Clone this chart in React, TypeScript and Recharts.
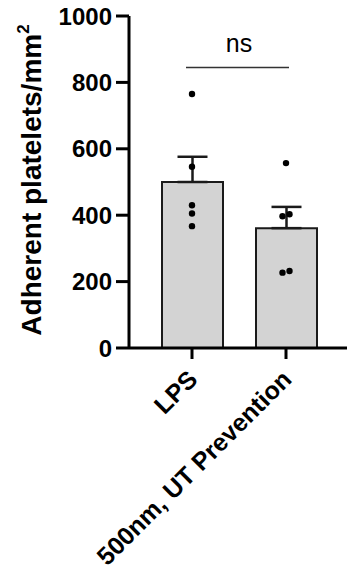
import {
  ComposedChart,
  Bar,
  Scatter,
  XAxis,
  YAxis,
  ErrorBar,
  ReferenceLine,
} from "recharts";

const groups = ["LPS", "500nm, UT Prevention"];
const means = [500, 361];
const sems = [76, 64];
const lpsPoints = [765, 546, 430, 405, 367];
const utPoints = [557, 403, 397, 232, 227];
const yTicks = [0, 200, 400, 600, 800, 1000];

const FONT = "Arial, 'Liberation Sans', sans-serif";

const barData = groups.map((name, i) => ({
  name,
  mean: means[i],
  err: [0, sems[i]],
}));

const pointData = [
  ...lpsPoints.map((v) => ({ name: groups[0], value: v })),
  ...utPoints.map((v) => ({ name: groups[1], value: v })),
];

// nudge points sideways when two in the same group nearly overlap
const Dot = (props: any) => {
  const { cx, cy, payload } = props;
  const same = pointData.filter((p) => p.name === payload.name);
  const idx = same.findIndex((p) => p.value === payload.value);
  const near = same.findIndex(
    (p, j) => j !== idx && Math.abs(p.value - payload.value) < 15
  );
  let dx = 0;
  if (near >= 0) dx = near > idx ? 3.5 : -3.5;
  return <circle cx={cx + dx} cy={cy} r={3.2} fill="#000" />;
};

const XTick = (props: any) => {
  const { x, y, payload } = props;
  return (
    <g transform={`translate(${x + 7},${y + 20})`}>
      <text
        x={0}
        y={0}
        textAnchor="end"
        transform="rotate(-45)"
        fontFamily={FONT}
        fontWeight="bold"
        fontSize={25}
        fill="#000"
      >
        {payload.value}
      </text>
    </g>
  );
};

const YLabel = () => (
  <text
    x={41}
    y={180}
    textAnchor="middle"
    transform="rotate(-90, 41, 180)"
    fontFamily={FONT}
    fontWeight="bold"
    fontSize={28}
    fill="#000"
  >
    Adherent platelets/mm
    <tspan dy={-12} fontSize={17}>
      2
    </tspan>
  </text>
);

// significance bar, slightly wider than the two category centres
const SigLine = (props: any) => {
  const { x1, y1, x2, y2 } = props;
  return (
    <line x1={x1 - 6} y1={y1} x2={x2 + 3} y2={y2} stroke="#333" strokeWidth={1.5} />
  );
};

export default function App() {
  return (
    <div style={{ position: "absolute", left: 0, top: 0, background: "#fff" }}>
      <ComposedChart
        width={347}
        height={571}
        data={barData}
        margin={{ top: 16, right: 0, bottom: 10, left: 0 }}
      >
        <XAxis
          dataKey="name"
          allowDuplicatedCategory={false}
          padding={{ left: 16, right: 14 }}
          height={213}
          axisLine={{ stroke: "#000", strokeWidth: 3 }}
          tickLine={{ stroke: "#000", strokeWidth: 3 }}
          tickSize={11}
          interval={0}
          tick={<XTick />}
        />
        <YAxis
          width={129}
          domain={[0, 1000]}
          ticks={yTicks}
          axisLine={{ stroke: "#000", strokeWidth: 3 }}
          tickLine={{ stroke: "#000", strokeWidth: 3 }}
          tickSize={13}
          tickMargin={4}
          tick={{
            fill: "#000",
            fontSize: 24,
            fontWeight: "bold",
            fontFamily: FONT,
          }}
          label={<YLabel />}
        />
        <Bar
          dataKey="mean"
          barSize={61}
          fill="#d3d3d3"
          stroke="#1a1a1a"
          strokeWidth={2}
          isAnimationActive={false}
        >
          <ErrorBar
            dataKey="err"
            width={15}
            stroke="#1a1a1a"
            strokeWidth={2.5}
            direction="y"
          />
        </Bar>
        <Scatter
          data={pointData}
          dataKey="value"
          shape={<Dot />}
          isAnimationActive={false}
        />
        <ReferenceLine
          segment={[
            { x: groups[0], y: 845 },
            { x: groups[1], y: 845 },
          ]}
          shape={<SigLine />}
          ifOverflow="visible"
          label={{
            value: "ns",
            position: "top",
            offset: 15,
            fill: "#000",
            fontSize: 25,
            fontFamily: FONT,
          }}
        />
      </ComposedChart>
    </div>
  );
}
